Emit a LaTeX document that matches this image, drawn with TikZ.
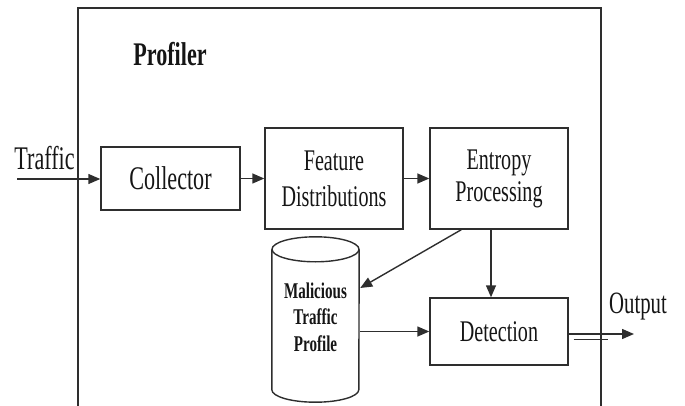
\documentclass[tikz,border=0pt]{standalone}
\usepackage{fontspec}
\setmainfont{Liberation Serif}[FakeStretch=0.67]
\usetikzlibrary{arrows.meta,calc}
\definecolor{linec}{HTML}{2E2E2E}
\definecolor{textc}{HTML}{151515}

\begin{document}
\begin{tikzpicture}[x=1pt,y=-1pt,
  box/.style={draw=linec, line width=1.4pt, minimum width=138pt, inner sep=0pt,
    align=center, text=textc},
  arr/.style={draw=linec, line width=1.4pt, -{Triangle[length=12pt,width=10pt]}},
  plain/.style={draw=linec, line width=1.4pt},
  frame/.style={draw=linec, line width=1.8pt},
  big/.style={font=\fontsize{33}{38}\selectfont, text=textc, inner sep=0pt},
]
\useasboundingbox (0,0) rectangle (685,406);

% outer profiler frame, open at the bottom
\draw[frame] (78,406) -- (78,8) -- (601,8) -- (601,406);
\node[big, font=\bfseries\fontsize{33}{38}\selectfont, anchor=base] (profiler) at (170,65.5) {Profiler};

% processing blocks
\node[box, minimum width=139pt, minimum height=63pt, font=\fontsize{33}{38}\selectfont]
  (collector) at (170.5,178.5) {Collector};
\node[box, minimum height=101pt, font=\fontsize{30}{36}\selectfont]
  (feature) at (334,178.5) {Feature\\Distributions};
\node[box, minimum height=101pt, font=\fontsize{30}{32}\selectfont]
  (entropy) at (499,178.5) {Entropy\\Processing};
\node[box, minimum height=67pt, font=\fontsize{30}{36}\selectfont]
  (detection) at (499,331.5) {Detection};

% profile database drawn as a cylinder
\node[minimum width=87pt, minimum height=140pt, inner sep=0pt] (db) at (315.5,319.5) {};
\draw[plain] (db.north west) -- (db.south west)
  arc[start angle=180, end angle=360, x radius=43.5pt, y radius=12.5pt] -- (db.north east);
\draw[plain] (db.north) ellipse [x radius=43.5pt, y radius=12.5pt];
\node[align=center, inner sep=0pt, text=textc,
  font=\bfseries\fontsize{22.5}{26.5}\selectfont] (dblabel) at (315.5,317)
  {Malicious\\Traffic\\Profile};

% input and output labels
\node[big, anchor=base] (traffic) at (44.5,169.5) {Traffic};
\node[big, font=\fontsize{31}{36}\selectfont, anchor=base] (output) at (638,313) {Output};

% connectors
\coordinate (tin) at (17,179);
\draw[arr] (tin) -- (tin -| collector.west);
\draw[arr] (collector.east) -- (collector.east -| feature.west);
\draw[arr] (feature.east) -- (entropy.west);
\coordinate (edown) at ($(entropy.south)+(-8,0)$);
\draw[arr] (edown) -- (edown |- detection.north);
\draw[arr] ($(entropy.south west)+(32,0)$) -- ($(db.east)+(1,-31.5)$);
\draw[arr] ($(db.east)+(1,12)$) -- (detection.west);
\coordinate (oend) at (634,334);
\draw[arr] (detection.east |- oend) -- (oend);
\draw[plain] ($(detection.east)+(5,8)$) -- ++(34,0);
\end{tikzpicture}
\end{document}
